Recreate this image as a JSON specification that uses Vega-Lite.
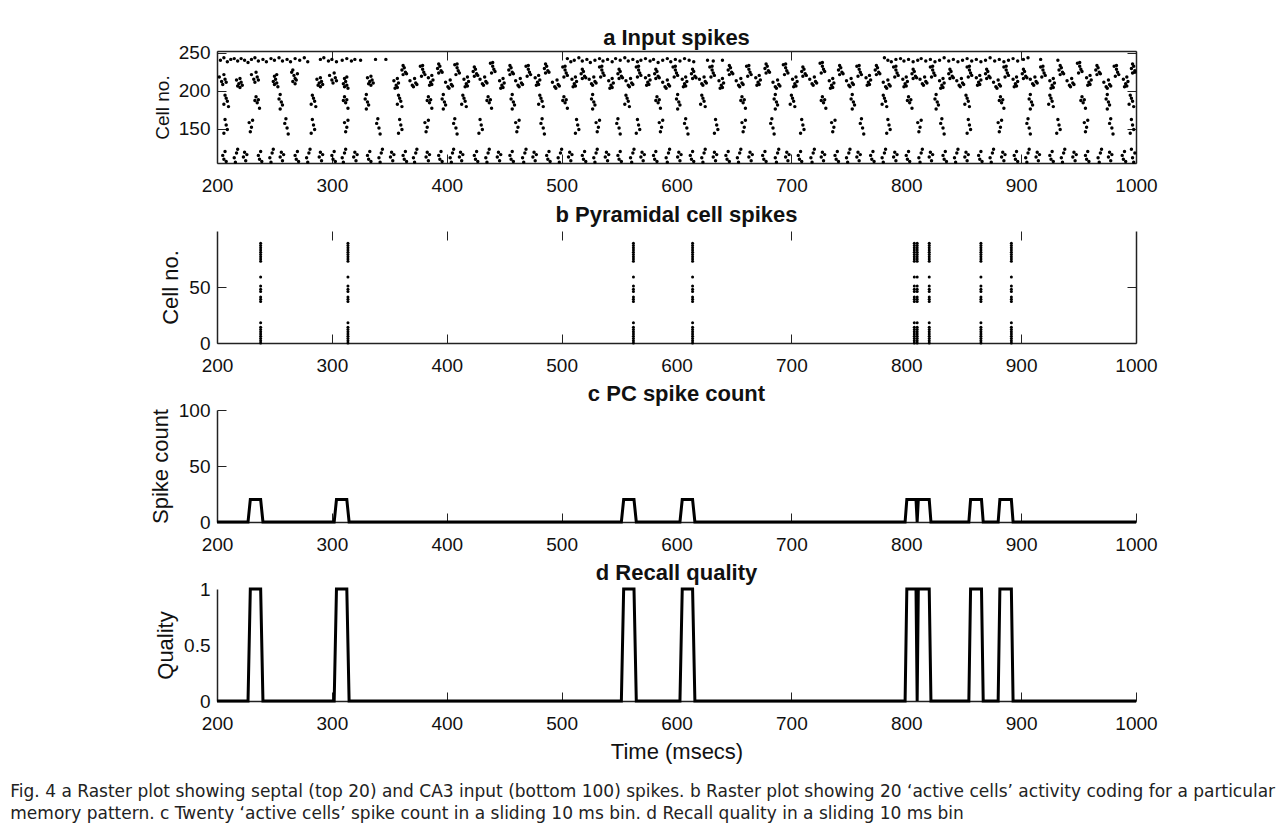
{
"$schema":"https://vega.github.io/schema/vega-lite/v6.json",
"background":"white",
"padding":{"left":10,"top":26,"right":5,"bottom":4},
"spacing":8,
"config":{
"font":"Liberation Sans",
"view":{"stroke":null},
"axis":{"domainColor":"#222","domainWidth":1.5,"tickColor":"#222","tickWidth":1,"tickSize":-9,"labelFont":"Liberation Sans","labelFontSize":19,"labelColor":"#111","titleFont":"Liberation Sans","titleFontSize":22,"titleFontWeight":"normal","titleColor":"#111","grid":false},
"title":{"font":"Liberation Sans","fontSize":22,"fontWeight":"bold","color":"#111","offset":4}
},
"title":{"text":["Fig. 4  a Raster plot showing septal (top 20) and CA3 input (bottom 100) spikes. b Raster plot showing 20 ‘active cells’ activity coding for a particular","memory pattern. c Twenty ‘active cells’ spike count in a sliding 10 ms bin. d Recall quality in a sliding 10 ms bin"],"orient":"bottom","anchor":"start","frame":"bounds","dx":-139,"offset":22,"font":"DejaVu Sans","fontSize":17,"fontWeight":"normal","color":"#222","lineHeight":22},
"datasets":{
"a":[
{"t":203,"c":240},{"t":206,"c":243},{"t":209,"c":238},{"t":212,"c":241},{"t":215,"c":242},{"t":218,"c":239},{"t":221,"c":242},{"t":224,"c":240},{"t":227,"c":237},{"t":230,"c":241},{"t":233,"c":243},{"t":236,"c":239},{"t":240,"c":241},{"t":243,"c":238},{"t":247,"c":242},{"t":250,"c":240},{"t":254,"c":243},{"t":257,"c":239},{"t":261,"c":241},{"t":264,"c":238},{"t":268,"c":242},{"t":272,"c":240},{"t":276,"c":243},{"t":279,"c":238},{"t":290,"c":241},{"t":293,"c":243},{"t":297,"c":239},{"t":300,"c":241},{"t":304,"c":238},{"t":309,"c":240},{"t":313,"c":242},{"t":317,"c":239},{"t":320,"c":241},{"t":325,"c":240},{"t":338,"c":241},{"t":347,"c":241},
{"t":505,"c":242},{"t":508,"c":238},{"t":511,"c":240},{"t":515,"c":243},{"t":518,"c":239},{"t":522,"c":241},{"t":525,"c":237},{"t":529,"c":240},{"t":533,"c":242},{"t":536,"c":239},{"t":540,"c":241},{"t":544,"c":238},{"t":547,"c":242},{"t":551,"c":240},{"t":555,"c":243},{"t":558,"c":239},{"t":562,"c":241},{"t":566,"c":238},{"t":569,"c":240},{"t":573,"c":242},{"t":577,"c":239},{"t":580,"c":241},{"t":584,"c":237},{"t":588,"c":240},{"t":592,"c":242},{"t":595,"c":238},{"t":599,"c":241},{"t":603,"c":239},{"t":607,"c":242},{"t":611,"c":240},{"t":615,"c":238},{"t":627,"c":240},{"t":632,"c":239},{"t":640,"c":240},
{"t":781,"c":243},{"t":784,"c":240},{"t":787,"c":238},{"t":791,"c":241},{"t":795,"c":242},{"t":798,"c":239},{"t":802,"c":241},{"t":806,"c":238},{"t":810,"c":240},{"t":813,"c":242},{"t":817,"c":239},{"t":821,"c":241},{"t":825,"c":238},{"t":829,"c":240},{"t":833,"c":243},{"t":837,"c":239},{"t":841,"c":241},{"t":845,"c":238},{"t":849,"c":240},{"t":853,"c":242},{"t":857,"c":239},{"t":861,"c":241},{"t":865,"c":238},{"t":869,"c":240},{"t":873,"c":243},{"t":877,"c":239},{"t":881,"c":241},{"t":885,"c":238},{"t":889,"c":240},{"t":893,"c":242},{"t":897,"c":239},{"t":902,"c":241},{"t":906,"c":243},{"t":917,"c":241},{"t":932,"c":240},
{"t":204,"c":212},{"t":205,"c":208},{"t":207,"c":215},{"t":202,"c":218},{"t":206,"c":221},{"t":208,"c":211},
{"t":218,"c":206},{"t":219,"c":209},{"t":220,"c":204},{"t":221,"c":211},{"t":217,"c":214},{"t":220,"c":216},{"t":222,"c":207},
{"t":232,"c":215},{"t":233,"c":211},{"t":235,"c":218},{"t":230,"c":221},{"t":234,"c":224},{"t":236,"c":214},
{"t":250,"c":208},{"t":252,"c":210},{"t":249,"c":212},{"t":251,"c":215},{"t":253,"c":205},{"t":250,"c":219},{"t":252,"c":221},
{"t":266,"c":212},{"t":268,"c":216},{"t":267,"c":220},{"t":265,"c":224},{"t":269,"c":214},{"t":266,"c":227},{"t":268,"c":209},{"t":270,"c":222},
{"t":288,"c":207},{"t":289,"c":210},{"t":290,"c":205},{"t":291,"c":212},{"t":287,"c":215},{"t":290,"c":217},{"t":292,"c":208},
{"t":300,"c":214},{"t":301,"c":210},{"t":303,"c":217},{"t":298,"c":220},{"t":302,"c":223},{"t":304,"c":213},
{"t":311,"c":205},{"t":313,"c":207},{"t":310,"c":209},{"t":312,"c":212},{"t":314,"c":203},{"t":311,"c":216},{"t":313,"c":218},
{"t":332,"c":209},{"t":333,"c":212},{"t":334,"c":207},{"t":335,"c":214},{"t":331,"c":217},{"t":334,"c":219},{"t":336,"c":210},
{"t":355,"c":203},{"t":356,"c":207},{"t":357,"c":204},{"t":358,"c":210},{"t":354,"c":213},{"t":357,"c":216},
{"t":362,"c":221},{"t":364,"c":224},{"t":361,"c":227},{"t":363,"c":230},{"t":365,"c":222},{"t":362,"c":233},
{"t":370,"c":207},{"t":371,"c":205},{"t":373,"c":210},{"t":368,"c":213},{"t":372,"c":216},{"t":374,"c":208},
{"t":378,"c":219},{"t":380,"c":224},{"t":379,"c":228},{"t":377,"c":232},{"t":381,"c":221},{"t":379,"c":233},
{"t":385,"c":207},{"t":386,"c":211},{"t":387,"c":208},{"t":388,"c":214},{"t":384,"c":217},{"t":387,"c":220},
{"t":393,"c":223},{"t":395,"c":226},{"t":392,"c":229},{"t":394,"c":232},{"t":396,"c":224},{"t":393,"c":235},
{"t":401,"c":205},{"t":402,"c":203},{"t":404,"c":208},{"t":399,"c":211},{"t":403,"c":214},{"t":405,"c":206},
{"t":408,"c":221},{"t":410,"c":226},{"t":409,"c":230},{"t":407,"c":234},{"t":411,"c":223},{"t":409,"c":235},
{"t":416,"c":205},{"t":417,"c":209},{"t":418,"c":206},{"t":419,"c":212},{"t":415,"c":215},{"t":418,"c":218},
{"t":424,"c":219},{"t":426,"c":222},{"t":423,"c":225},{"t":425,"c":228},{"t":427,"c":220},{"t":424,"c":231},
{"t":431,"c":209},{"t":432,"c":207},{"t":434,"c":212},{"t":429,"c":215},{"t":433,"c":218},{"t":435,"c":210},
{"t":439,"c":223},{"t":441,"c":228},{"t":440,"c":232},{"t":438,"c":236},{"t":442,"c":225},{"t":440,"c":237},
{"t":447,"c":203},{"t":448,"c":207},{"t":449,"c":204},{"t":450,"c":210},{"t":446,"c":213},{"t":449,"c":216},
{"t":455,"c":221},{"t":457,"c":224},{"t":454,"c":227},{"t":456,"c":230},{"t":458,"c":222},{"t":455,"c":233},
{"t":462,"c":207},{"t":463,"c":205},{"t":465,"c":210},{"t":460,"c":213},{"t":464,"c":216},{"t":466,"c":208},
{"t":470,"c":219},{"t":472,"c":224},{"t":471,"c":228},{"t":469,"c":232},{"t":473,"c":221},{"t":471,"c":233},
{"t":478,"c":207},{"t":479,"c":211},{"t":480,"c":208},{"t":481,"c":214},{"t":477,"c":217},{"t":480,"c":220},
{"t":486,"c":223},{"t":488,"c":226},{"t":485,"c":229},{"t":487,"c":232},{"t":489,"c":224},{"t":486,"c":235},
{"t":494,"c":205},{"t":495,"c":203},{"t":497,"c":208},{"t":492,"c":211},{"t":496,"c":214},{"t":498,"c":206},
{"t":502,"c":218},{"t":504,"c":223},{"t":503,"c":227},{"t":501,"c":231},{"t":505,"c":220},{"t":503,"c":232},
{"t":510,"c":205},{"t":511,"c":209},{"t":512,"c":206},{"t":513,"c":212},{"t":509,"c":215},{"t":512,"c":218},
{"t":518,"c":216},{"t":520,"c":219},{"t":517,"c":222},{"t":519,"c":225},{"t":521,"c":217},{"t":518,"c":228},
{"t":526,"c":209},{"t":527,"c":207},{"t":529,"c":212},{"t":524,"c":215},{"t":528,"c":218},{"t":530,"c":210},
{"t":534,"c":218},{"t":536,"c":223},{"t":535,"c":227},{"t":533,"c":231},{"t":537,"c":220},{"t":535,"c":232},
{"t":542,"c":203},{"t":543,"c":207},{"t":544,"c":204},{"t":545,"c":210},{"t":541,"c":213},{"t":544,"c":216},
{"t":550,"c":216},{"t":552,"c":219},{"t":549,"c":222},{"t":551,"c":225},{"t":553,"c":217},{"t":550,"c":228},
{"t":558,"c":207},{"t":559,"c":205},{"t":561,"c":210},{"t":556,"c":213},{"t":560,"c":216},{"t":562,"c":208},
{"t":566,"c":218},{"t":568,"c":223},{"t":567,"c":227},{"t":565,"c":231},{"t":569,"c":220},{"t":567,"c":232},
{"t":574,"c":207},{"t":575,"c":211},{"t":576,"c":208},{"t":577,"c":214},{"t":573,"c":217},{"t":576,"c":220},
{"t":582,"c":216},{"t":584,"c":219},{"t":581,"c":222},{"t":583,"c":225},{"t":585,"c":217},{"t":582,"c":228},
{"t":590,"c":205},{"t":591,"c":203},{"t":593,"c":208},{"t":588,"c":211},{"t":592,"c":214},{"t":594,"c":206},
{"t":598,"c":218},{"t":600,"c":223},{"t":599,"c":227},{"t":597,"c":231},{"t":601,"c":220},{"t":599,"c":232},
{"t":606,"c":205},{"t":607,"c":209},{"t":608,"c":206},{"t":609,"c":212},{"t":605,"c":215},{"t":608,"c":218},
{"t":614,"c":216},{"t":616,"c":219},{"t":613,"c":222},{"t":615,"c":225},{"t":617,"c":217},{"t":614,"c":228},
{"t":622,"c":209},{"t":623,"c":207},{"t":625,"c":212},{"t":620,"c":215},{"t":624,"c":218},{"t":626,"c":210},
{"t":630,"c":218},{"t":632,"c":223},{"t":631,"c":227},{"t":629,"c":231},{"t":633,"c":220},{"t":631,"c":232},
{"t":638,"c":203},{"t":639,"c":207},{"t":640,"c":204},{"t":641,"c":210},{"t":637,"c":213},{"t":640,"c":216},
{"t":646,"c":221},{"t":648,"c":224},{"t":645,"c":227},{"t":647,"c":230},{"t":649,"c":222},{"t":646,"c":233},
{"t":654,"c":207},{"t":655,"c":205},{"t":657,"c":210},{"t":652,"c":213},{"t":656,"c":216},{"t":658,"c":208},
{"t":662,"c":219},{"t":664,"c":224},{"t":663,"c":228},{"t":661,"c":232},{"t":665,"c":221},{"t":663,"c":233},
{"t":670,"c":207},{"t":671,"c":211},{"t":672,"c":208},{"t":673,"c":214},{"t":669,"c":217},{"t":672,"c":220},
{"t":678,"c":223},{"t":680,"c":226},{"t":677,"c":229},{"t":679,"c":232},{"t":681,"c":224},{"t":678,"c":235},
{"t":686,"c":205},{"t":687,"c":203},{"t":689,"c":208},{"t":684,"c":211},{"t":688,"c":214},{"t":690,"c":206},
{"t":694,"c":221},{"t":696,"c":226},{"t":695,"c":230},{"t":693,"c":234},{"t":697,"c":223},{"t":695,"c":235},
{"t":702,"c":205},{"t":703,"c":209},{"t":704,"c":206},{"t":705,"c":212},{"t":701,"c":215},{"t":704,"c":218},
{"t":710,"c":219},{"t":712,"c":222},{"t":709,"c":225},{"t":711,"c":228},{"t":713,"c":220},{"t":710,"c":231},
{"t":718,"c":209},{"t":719,"c":207},{"t":721,"c":212},{"t":716,"c":215},{"t":720,"c":218},{"t":722,"c":210},
{"t":726,"c":223},{"t":728,"c":228},{"t":727,"c":232},{"t":725,"c":236},{"t":729,"c":225},{"t":727,"c":237},
{"t":734,"c":203},{"t":735,"c":207},{"t":736,"c":204},{"t":737,"c":210},{"t":733,"c":213},{"t":736,"c":216},
{"t":742,"c":221},{"t":744,"c":224},{"t":741,"c":227},{"t":743,"c":230},{"t":745,"c":222},{"t":742,"c":233},
{"t":750,"c":207},{"t":751,"c":205},{"t":753,"c":210},{"t":748,"c":213},{"t":752,"c":216},{"t":754,"c":208},
{"t":758,"c":219},{"t":760,"c":224},{"t":759,"c":228},{"t":757,"c":232},{"t":761,"c":221},{"t":759,"c":233},
{"t":766,"c":207},{"t":767,"c":211},{"t":768,"c":208},{"t":769,"c":214},{"t":765,"c":217},{"t":768,"c":220},
{"t":774,"c":221},{"t":776,"c":224},{"t":773,"c":227},{"t":775,"c":230},{"t":777,"c":222},{"t":774,"c":233},
{"t":782,"c":205},{"t":783,"c":203},{"t":785,"c":208},{"t":780,"c":211},{"t":784,"c":214},{"t":786,"c":206},
{"t":790,"c":218},{"t":792,"c":223},{"t":791,"c":227},{"t":789,"c":231},{"t":793,"c":220},{"t":791,"c":232},
{"t":798,"c":205},{"t":799,"c":209},{"t":800,"c":206},{"t":801,"c":212},{"t":797,"c":215},{"t":800,"c":218},
{"t":806,"c":216},{"t":808,"c":219},{"t":805,"c":222},{"t":807,"c":225},{"t":809,"c":217},{"t":806,"c":228},
{"t":814,"c":209},{"t":815,"c":207},{"t":817,"c":212},{"t":812,"c":215},{"t":816,"c":218},{"t":818,"c":210},
{"t":822,"c":218},{"t":824,"c":223},{"t":823,"c":227},{"t":821,"c":231},{"t":825,"c":220},{"t":823,"c":232},
{"t":830,"c":203},{"t":831,"c":207},{"t":832,"c":204},{"t":833,"c":210},{"t":829,"c":213},{"t":832,"c":216},
{"t":838,"c":216},{"t":840,"c":219},{"t":837,"c":222},{"t":839,"c":225},{"t":841,"c":217},{"t":838,"c":228},
{"t":846,"c":207},{"t":847,"c":205},{"t":849,"c":210},{"t":844,"c":213},{"t":848,"c":216},{"t":850,"c":208},
{"t":854,"c":218},{"t":856,"c":223},{"t":855,"c":227},{"t":853,"c":231},{"t":857,"c":220},{"t":855,"c":232},
{"t":862,"c":207},{"t":863,"c":211},{"t":864,"c":208},{"t":865,"c":214},{"t":861,"c":217},{"t":864,"c":220},
{"t":870,"c":216},{"t":872,"c":219},{"t":869,"c":222},{"t":871,"c":225},{"t":873,"c":217},{"t":870,"c":228},
{"t":878,"c":205},{"t":879,"c":203},{"t":881,"c":208},{"t":876,"c":211},{"t":880,"c":214},{"t":882,"c":206},
{"t":886,"c":218},{"t":888,"c":223},{"t":887,"c":227},{"t":885,"c":231},{"t":889,"c":220},{"t":887,"c":232},
{"t":894,"c":205},{"t":895,"c":209},{"t":896,"c":206},{"t":897,"c":212},{"t":893,"c":215},{"t":896,"c":218},
{"t":902,"c":216},{"t":904,"c":219},{"t":901,"c":222},{"t":903,"c":225},{"t":905,"c":217},{"t":902,"c":228},
{"t":910,"c":209},{"t":911,"c":207},{"t":913,"c":212},{"t":908,"c":215},{"t":912,"c":218},{"t":914,"c":210},
{"t":918,"c":218},{"t":920,"c":223},{"t":919,"c":227},{"t":917,"c":231},{"t":921,"c":220},{"t":919,"c":232},
{"t":926,"c":203},{"t":927,"c":207},{"t":928,"c":204},{"t":929,"c":210},{"t":925,"c":213},{"t":928,"c":216},
{"t":934,"c":221},{"t":936,"c":224},{"t":933,"c":227},{"t":935,"c":230},{"t":937,"c":222},{"t":934,"c":233},
{"t":942,"c":207},{"t":943,"c":205},{"t":945,"c":210},{"t":940,"c":213},{"t":944,"c":216},{"t":946,"c":208},
{"t":950,"c":223},{"t":952,"c":228},{"t":951,"c":232},{"t":949,"c":236},{"t":953,"c":225},{"t":951,"c":237},
{"t":958,"c":207},{"t":959,"c":211},{"t":960,"c":208},{"t":961,"c":214},{"t":957,"c":217},{"t":960,"c":220},
{"t":966,"c":221},{"t":968,"c":224},{"t":965,"c":227},{"t":967,"c":230},{"t":969,"c":222},{"t":966,"c":233},
{"t":974,"c":205},{"t":975,"c":203},{"t":977,"c":208},{"t":972,"c":211},{"t":976,"c":214},{"t":978,"c":206},
{"t":982,"c":219},{"t":984,"c":224},{"t":983,"c":228},{"t":981,"c":232},{"t":985,"c":221},{"t":983,"c":233},
{"t":990,"c":205},{"t":991,"c":209},{"t":992,"c":206},{"t":993,"c":212},{"t":989,"c":215},{"t":992,"c":218},
{"t":997,"c":223},{"t":999,"c":226},{"t":996,"c":229},{"t":998,"c":232},{"t":999,"c":224},{"t":997,"c":235},
{"t":207,"c":194},{"t":208,"c":190},{"t":209,"c":186},{"t":206,"c":182},{"t":210,"c":179},
{"t":234,"c":192},{"t":236,"c":188},{"t":235,"c":184},{"t":237,"c":177},{"t":233,"c":187},
{"t":255,"c":195},{"t":254,"c":189},{"t":256,"c":185},{"t":257,"c":181},{"t":255,"c":176},
{"t":283,"c":194},{"t":284,"c":190},{"t":285,"c":186},{"t":282,"c":182},{"t":286,"c":179},
{"t":311,"c":192},{"t":313,"c":188},{"t":312,"c":184},{"t":314,"c":177},{"t":310,"c":187},
{"t":330,"c":195},{"t":329,"c":189},{"t":331,"c":185},{"t":332,"c":181},{"t":330,"c":176},
{"t":358,"c":194},{"t":359,"c":190},{"t":360,"c":186},{"t":357,"c":182},{"t":361,"c":179},
{"t":384,"c":192},{"t":386,"c":188},{"t":385,"c":184},{"t":387,"c":177},{"t":383,"c":187},
{"t":397,"c":195},{"t":396,"c":189},{"t":398,"c":185},{"t":399,"c":181},{"t":397,"c":176},
{"t":414,"c":194},{"t":415,"c":190},{"t":416,"c":186},{"t":413,"c":182},{"t":417,"c":179},
{"t":436,"c":192},{"t":438,"c":188},{"t":437,"c":184},{"t":439,"c":177},{"t":435,"c":187},
{"t":457,"c":195},{"t":456,"c":189},{"t":458,"c":185},{"t":459,"c":181},{"t":457,"c":176},
{"t":481,"c":194},{"t":482,"c":190},{"t":483,"c":186},{"t":480,"c":182},{"t":484,"c":179},
{"t":502,"c":192},{"t":504,"c":188},{"t":503,"c":184},{"t":505,"c":177},{"t":501,"c":187},
{"t":527,"c":195},{"t":526,"c":189},{"t":528,"c":185},{"t":529,"c":181},{"t":527,"c":176},
{"t":556,"c":194},{"t":557,"c":190},{"t":558,"c":186},{"t":555,"c":182},{"t":559,"c":179},
{"t":583,"c":192},{"t":585,"c":188},{"t":584,"c":184},{"t":586,"c":177},{"t":582,"c":187},
{"t":601,"c":195},{"t":600,"c":189},{"t":602,"c":185},{"t":603,"c":181},{"t":601,"c":176},
{"t":622,"c":194},{"t":623,"c":190},{"t":624,"c":186},{"t":621,"c":182},{"t":625,"c":179},
{"t":657,"c":192},{"t":659,"c":188},{"t":658,"c":184},{"t":660,"c":177},{"t":656,"c":187},
{"t":686,"c":195},{"t":685,"c":189},{"t":687,"c":185},{"t":688,"c":181},{"t":686,"c":176},
{"t":700,"c":194},{"t":701,"c":190},{"t":702,"c":186},{"t":699,"c":182},{"t":703,"c":179},
{"t":727,"c":192},{"t":729,"c":188},{"t":728,"c":184},{"t":730,"c":177},{"t":726,"c":187},
{"t":753,"c":195},{"t":752,"c":189},{"t":754,"c":185},{"t":755,"c":181},{"t":753,"c":176},
{"t":780,"c":194},{"t":781,"c":190},{"t":782,"c":186},{"t":779,"c":182},{"t":783,"c":179},
{"t":802,"c":192},{"t":804,"c":188},{"t":803,"c":184},{"t":805,"c":177},{"t":801,"c":187},
{"t":826,"c":195},{"t":825,"c":189},{"t":827,"c":185},{"t":828,"c":181},{"t":826,"c":176},
{"t":852,"c":194},{"t":853,"c":190},{"t":854,"c":186},{"t":851,"c":182},{"t":855,"c":179},
{"t":882,"c":192},{"t":884,"c":188},{"t":883,"c":184},{"t":885,"c":177},{"t":881,"c":187},
{"t":908,"c":195},{"t":907,"c":189},{"t":909,"c":185},{"t":910,"c":181},{"t":908,"c":176},
{"t":925,"c":194},{"t":926,"c":190},{"t":927,"c":186},{"t":924,"c":182},{"t":928,"c":179},
{"t":953,"c":192},{"t":955,"c":188},{"t":954,"c":184},{"t":956,"c":177},{"t":952,"c":187},
{"t":975,"c":195},{"t":974,"c":189},{"t":976,"c":185},{"t":977,"c":181},{"t":975,"c":176},
{"t":995,"c":194},{"t":996,"c":190},{"t":997,"c":186},{"t":994,"c":182},{"t":998,"c":179},
{"t":207,"c":162},{"t":208,"c":155},{"t":209,"c":149},{"t":206,"c":144},
{"t":228,"c":158},{"t":230,"c":152},{"t":229,"c":146},{"t":231,"c":161},
{"t":260,"c":163},{"t":259,"c":157},{"t":261,"c":151},{"t":262,"c":143},
{"t":283,"c":162},{"t":284,"c":155},{"t":285,"c":149},{"t":282,"c":144},
{"t":311,"c":158},{"t":313,"c":152},{"t":312,"c":146},{"t":314,"c":161},
{"t":340,"c":163},{"t":339,"c":157},{"t":341,"c":151},{"t":342,"c":143},
{"t":359,"c":162},{"t":360,"c":155},{"t":361,"c":149},{"t":358,"c":144},
{"t":381,"c":158},{"t":383,"c":152},{"t":382,"c":146},{"t":384,"c":161},
{"t":407,"c":163},{"t":406,"c":157},{"t":408,"c":151},{"t":409,"c":143},
{"t":429,"c":162},{"t":430,"c":155},{"t":431,"c":149},{"t":428,"c":144},
{"t":460,"c":158},{"t":462,"c":152},{"t":461,"c":146},{"t":463,"c":161},
{"t":483,"c":163},{"t":482,"c":157},{"t":484,"c":151},{"t":485,"c":143},
{"t":513,"c":162},{"t":514,"c":155},{"t":515,"c":149},{"t":512,"c":144},
{"t":530,"c":158},{"t":532,"c":152},{"t":531,"c":146},{"t":533,"c":161},
{"t":549,"c":163},{"t":548,"c":157},{"t":550,"c":151},{"t":551,"c":143},
{"t":566,"c":162},{"t":567,"c":155},{"t":568,"c":149},{"t":565,"c":144},
{"t":585,"c":158},{"t":587,"c":152},{"t":586,"c":146},{"t":588,"c":161},
{"t":608,"c":163},{"t":607,"c":157},{"t":609,"c":151},{"t":610,"c":143},
{"t":634,"c":162},{"t":635,"c":155},{"t":636,"c":149},{"t":633,"c":144},
{"t":657,"c":158},{"t":659,"c":152},{"t":658,"c":146},{"t":660,"c":161},
{"t":683,"c":163},{"t":682,"c":157},{"t":684,"c":151},{"t":685,"c":143},
{"t":709,"c":162},{"t":710,"c":155},{"t":711,"c":149},{"t":708,"c":144},
{"t":735,"c":158},{"t":737,"c":152},{"t":736,"c":146},{"t":738,"c":161},
{"t":761,"c":163},{"t":760,"c":157},{"t":762,"c":151},{"t":763,"c":143},
{"t":784,"c":162},{"t":785,"c":155},{"t":786,"c":149},{"t":783,"c":144},
{"t":810,"c":158},{"t":812,"c":152},{"t":811,"c":146},{"t":813,"c":161},
{"t":831,"c":163},{"t":830,"c":157},{"t":832,"c":151},{"t":833,"c":143},
{"t":854,"c":162},{"t":855,"c":155},{"t":856,"c":149},{"t":853,"c":144},
{"t":880,"c":158},{"t":882,"c":152},{"t":881,"c":146},{"t":883,"c":161},
{"t":906,"c":163},{"t":905,"c":157},{"t":907,"c":151},{"t":908,"c":143},
{"t":932,"c":162},{"t":933,"c":155},{"t":934,"c":149},{"t":931,"c":144},
{"t":955,"c":158},{"t":957,"c":152},{"t":956,"c":146},{"t":958,"c":161},
{"t":978,"c":163},{"t":977,"c":157},{"t":979,"c":151},{"t":980,"c":143},
{"t":996,"c":162},{"t":997,"c":155},{"t":998,"c":149},{"t":995,"c":144},
{"t":205,"c":115},{"t":206,"c":110},{"t":207,"c":120},{"t":208,"c":107},
{"t":215,"c":112},{"t":217,"c":118},{"t":216,"c":106},{"t":218,"c":123},
{"t":224,"c":119},{"t":223,"c":113},{"t":225,"c":108},{"t":226,"c":116},
{"t":236,"c":115},{"t":237,"c":110},{"t":238,"c":120},{"t":239,"c":107},
{"t":246,"c":112},{"t":248,"c":118},{"t":247,"c":106},{"t":249,"c":123},
{"t":256,"c":119},{"t":255,"c":113},{"t":257,"c":108},{"t":258,"c":116},
{"t":268,"c":115},{"t":269,"c":110},{"t":270,"c":120},{"t":271,"c":107},
{"t":278,"c":112},{"t":280,"c":118},{"t":279,"c":106},{"t":281,"c":123},
{"t":290,"c":119},{"t":289,"c":113},{"t":291,"c":108},{"t":292,"c":116},
{"t":300,"c":115},{"t":301,"c":110},{"t":302,"c":120},{"t":303,"c":107},
{"t":309,"c":112},{"t":311,"c":118},{"t":310,"c":106},{"t":312,"c":123},
{"t":320,"c":119},{"t":319,"c":113},{"t":321,"c":108},{"t":322,"c":116},
{"t":331,"c":115},{"t":332,"c":110},{"t":333,"c":120},{"t":334,"c":107},
{"t":341,"c":112},{"t":343,"c":118},{"t":342,"c":106},{"t":344,"c":123},
{"t":352,"c":119},{"t":351,"c":113},{"t":353,"c":108},{"t":354,"c":116},
{"t":362,"c":115},{"t":363,"c":110},{"t":364,"c":120},{"t":365,"c":107},
{"t":371,"c":112},{"t":373,"c":118},{"t":372,"c":106},{"t":374,"c":123},
{"t":383,"c":119},{"t":382,"c":113},{"t":384,"c":108},{"t":385,"c":116},
{"t":393,"c":115},{"t":394,"c":110},{"t":395,"c":120},{"t":396,"c":107},
{"t":403,"c":112},{"t":405,"c":118},{"t":404,"c":106},{"t":406,"c":123},
{"t":412,"c":119},{"t":411,"c":113},{"t":413,"c":108},{"t":414,"c":116},
{"t":424,"c":115},{"t":425,"c":110},{"t":426,"c":120},{"t":427,"c":107},
{"t":434,"c":112},{"t":436,"c":118},{"t":435,"c":106},{"t":437,"c":123},
{"t":445,"c":119},{"t":444,"c":113},{"t":446,"c":108},{"t":447,"c":116},
{"t":455,"c":115},{"t":456,"c":110},{"t":457,"c":120},{"t":458,"c":107},
{"t":466,"c":112},{"t":468,"c":118},{"t":467,"c":106},{"t":469,"c":123},
{"t":476,"c":119},{"t":475,"c":113},{"t":477,"c":108},{"t":478,"c":116},
{"t":487,"c":115},{"t":488,"c":110},{"t":489,"c":120},{"t":490,"c":107},
{"t":497,"c":112},{"t":499,"c":118},{"t":498,"c":106},{"t":500,"c":123},
{"t":507,"c":119},{"t":506,"c":113},{"t":508,"c":108},{"t":509,"c":116},
{"t":518,"c":115},{"t":519,"c":110},{"t":520,"c":120},{"t":521,"c":107},
{"t":528,"c":112},{"t":530,"c":118},{"t":529,"c":106},{"t":531,"c":123},
{"t":539,"c":119},{"t":538,"c":113},{"t":540,"c":108},{"t":541,"c":116},
{"t":549,"c":115},{"t":550,"c":110},{"t":551,"c":120},{"t":552,"c":107},
{"t":560,"c":112},{"t":562,"c":118},{"t":561,"c":106},{"t":563,"c":123},
{"t":570,"c":119},{"t":569,"c":113},{"t":571,"c":108},{"t":572,"c":116},
{"t":580,"c":115},{"t":581,"c":110},{"t":582,"c":120},{"t":583,"c":107},
{"t":591,"c":112},{"t":593,"c":118},{"t":592,"c":106},{"t":594,"c":123},
{"t":602,"c":119},{"t":601,"c":113},{"t":603,"c":108},{"t":604,"c":116},
{"t":612,"c":115},{"t":613,"c":110},{"t":614,"c":120},{"t":615,"c":107},
{"t":622,"c":112},{"t":624,"c":118},{"t":623,"c":106},{"t":625,"c":123},
{"t":633,"c":119},{"t":632,"c":113},{"t":634,"c":108},{"t":635,"c":116},
{"t":643,"c":115},{"t":644,"c":110},{"t":645,"c":120},{"t":646,"c":107},
{"t":653,"c":112},{"t":655,"c":118},{"t":654,"c":106},{"t":656,"c":123},
{"t":664,"c":119},{"t":663,"c":113},{"t":665,"c":108},{"t":666,"c":116},
{"t":675,"c":115},{"t":676,"c":110},{"t":677,"c":120},{"t":678,"c":107},
{"t":686,"c":112},{"t":688,"c":118},{"t":687,"c":106},{"t":689,"c":123},
{"t":696,"c":119},{"t":695,"c":113},{"t":697,"c":108},{"t":698,"c":116},
{"t":706,"c":115},{"t":707,"c":110},{"t":708,"c":120},{"t":709,"c":107},
{"t":717,"c":112},{"t":719,"c":118},{"t":718,"c":106},{"t":720,"c":123},
{"t":727,"c":119},{"t":726,"c":113},{"t":728,"c":108},{"t":729,"c":116},
{"t":738,"c":115},{"t":739,"c":110},{"t":740,"c":120},{"t":741,"c":107},
{"t":748,"c":112},{"t":750,"c":118},{"t":749,"c":106},{"t":751,"c":123},
{"t":758,"c":119},{"t":757,"c":113},{"t":759,"c":108},{"t":760,"c":116},
{"t":769,"c":115},{"t":770,"c":110},{"t":771,"c":120},{"t":772,"c":107},
{"t":779,"c":112},{"t":781,"c":118},{"t":780,"c":106},{"t":782,"c":123},
{"t":790,"c":119},{"t":789,"c":113},{"t":791,"c":108},{"t":792,"c":116},
{"t":800,"c":115},{"t":801,"c":110},{"t":802,"c":120},{"t":803,"c":107},
{"t":811,"c":112},{"t":813,"c":118},{"t":812,"c":106},{"t":814,"c":123},
{"t":821,"c":119},{"t":820,"c":113},{"t":822,"c":108},{"t":823,"c":116},
{"t":832,"c":115},{"t":833,"c":110},{"t":834,"c":120},{"t":835,"c":107},
{"t":842,"c":112},{"t":844,"c":118},{"t":843,"c":106},{"t":845,"c":123},
{"t":852,"c":119},{"t":851,"c":113},{"t":853,"c":108},{"t":854,"c":116},
{"t":863,"c":115},{"t":864,"c":110},{"t":865,"c":120},{"t":866,"c":107},
{"t":873,"c":112},{"t":875,"c":118},{"t":874,"c":106},{"t":876,"c":123},
{"t":884,"c":119},{"t":883,"c":113},{"t":885,"c":108},{"t":886,"c":116},
{"t":894,"c":115},{"t":895,"c":110},{"t":896,"c":120},{"t":897,"c":107},
{"t":904,"c":112},{"t":906,"c":118},{"t":905,"c":106},{"t":907,"c":123},
{"t":914,"c":119},{"t":913,"c":113},{"t":915,"c":108},{"t":916,"c":116},
{"t":925,"c":115},{"t":926,"c":110},{"t":927,"c":120},{"t":928,"c":107},
{"t":935,"c":112},{"t":937,"c":118},{"t":936,"c":106},{"t":938,"c":123},
{"t":946,"c":119},{"t":945,"c":113},{"t":947,"c":108},{"t":948,"c":116},
{"t":956,"c":115},{"t":957,"c":110},{"t":958,"c":120},{"t":959,"c":107},
{"t":967,"c":112},{"t":969,"c":118},{"t":968,"c":106},{"t":970,"c":123},
{"t":977,"c":119},{"t":976,"c":113},{"t":978,"c":108},{"t":979,"c":116},
{"t":988,"c":115},{"t":989,"c":110},{"t":990,"c":120},{"t":991,"c":107},
{"t":997,"c":112},{"t":999,"c":118},{"t":998,"c":106},{"t":996,"c":123}
],
"b":[
{"t":238,"c":0},{"t":238,"c":2},{"t":238,"c":4},{"t":238,"c":6},{"t":238,"c":8},{"t":238,"c":10},{"t":238,"c":12},{"t":238,"c":14},{"t":238,"c":18},{"t":238,"c":37},{"t":238,"c":39},{"t":238,"c":41},{"t":238,"c":46},{"t":238,"c":48},{"t":238,"c":51},{"t":238,"c":59},{"t":238,"c":73},{"t":238,"c":75},{"t":238,"c":77},{"t":238,"c":79},{"t":238,"c":81},{"t":238,"c":83},{"t":238,"c":85},{"t":238,"c":87},{"t":238,"c":89},
{"t":314,"c":0},{"t":314,"c":2},{"t":314,"c":4},{"t":314,"c":6},{"t":314,"c":8},{"t":314,"c":10},{"t":314,"c":12},{"t":314,"c":14},{"t":314,"c":18},{"t":314,"c":37},{"t":314,"c":39},{"t":314,"c":41},{"t":314,"c":46},{"t":314,"c":48},{"t":314,"c":51},{"t":314,"c":59},{"t":314,"c":73},{"t":314,"c":75},{"t":314,"c":77},{"t":314,"c":79},{"t":314,"c":81},{"t":314,"c":83},{"t":314,"c":85},{"t":314,"c":87},{"t":314,"c":89},
{"t":562.5,"c":0},{"t":562.5,"c":2},{"t":562.5,"c":4},{"t":562.5,"c":6},{"t":562.5,"c":8},{"t":562.5,"c":10},{"t":562.5,"c":12},{"t":562.5,"c":14},{"t":562.5,"c":18},{"t":562.5,"c":37},{"t":562.5,"c":39},{"t":562.5,"c":41},{"t":562.5,"c":46},{"t":562.5,"c":48},{"t":562.5,"c":51},{"t":562.5,"c":59},{"t":562.5,"c":73},{"t":562.5,"c":75},{"t":562.5,"c":77},{"t":562.5,"c":79},{"t":562.5,"c":81},{"t":562.5,"c":83},{"t":562.5,"c":85},{"t":562.5,"c":87},{"t":562.5,"c":89},
{"t":614,"c":0},{"t":614,"c":2},{"t":614,"c":4},{"t":614,"c":6},{"t":614,"c":8},{"t":614,"c":10},{"t":614,"c":12},{"t":614,"c":14},{"t":614,"c":18},{"t":614,"c":37},{"t":614,"c":39},{"t":614,"c":41},{"t":614,"c":46},{"t":614,"c":48},{"t":614,"c":51},{"t":614,"c":59},{"t":614,"c":73},{"t":614,"c":75},{"t":614,"c":77},{"t":614,"c":79},{"t":614,"c":81},{"t":614,"c":83},{"t":614,"c":85},{"t":614,"c":87},{"t":614,"c":89},
{"t":807,"c":0},{"t":807,"c":2},{"t":807,"c":4},{"t":807,"c":6},{"t":807,"c":8},{"t":807,"c":10},{"t":807,"c":12},{"t":807,"c":14},{"t":807,"c":18},{"t":807,"c":37},{"t":807,"c":39},{"t":807,"c":41},{"t":807,"c":46},{"t":807,"c":48},{"t":807,"c":51},{"t":807,"c":59},{"t":807,"c":73},{"t":807,"c":75},{"t":807,"c":77},{"t":807,"c":79},{"t":807,"c":81},{"t":807,"c":83},{"t":807,"c":85},{"t":807,"c":87},{"t":807,"c":89},
{"t":809.5,"c":0},{"t":809.5,"c":2},{"t":809.5,"c":4},{"t":809.5,"c":6},{"t":809.5,"c":8},{"t":809.5,"c":10},{"t":809.5,"c":12},{"t":809.5,"c":14},{"t":809.5,"c":18},{"t":809.5,"c":37},{"t":809.5,"c":39},{"t":809.5,"c":41},{"t":809.5,"c":46},{"t":809.5,"c":48},{"t":809.5,"c":51},{"t":809.5,"c":59},{"t":809.5,"c":73},{"t":809.5,"c":75},{"t":809.5,"c":77},{"t":809.5,"c":79},{"t":809.5,"c":81},{"t":809.5,"c":83},{"t":809.5,"c":85},{"t":809.5,"c":87},{"t":809.5,"c":89},
{"t":820,"c":0},{"t":820,"c":2},{"t":820,"c":4},{"t":820,"c":6},{"t":820,"c":8},{"t":820,"c":10},{"t":820,"c":12},{"t":820,"c":14},{"t":820,"c":18},{"t":820,"c":37},{"t":820,"c":39},{"t":820,"c":41},{"t":820,"c":46},{"t":820,"c":48},{"t":820,"c":51},{"t":820,"c":59},{"t":820,"c":73},{"t":820,"c":75},{"t":820,"c":77},{"t":820,"c":79},{"t":820,"c":81},{"t":820,"c":83},{"t":820,"c":85},{"t":820,"c":87},{"t":820,"c":89},
{"t":865,"c":0},{"t":865,"c":2},{"t":865,"c":4},{"t":865,"c":6},{"t":865,"c":8},{"t":865,"c":10},{"t":865,"c":12},{"t":865,"c":14},{"t":865,"c":18},{"t":865,"c":37},{"t":865,"c":39},{"t":865,"c":41},{"t":865,"c":46},{"t":865,"c":48},{"t":865,"c":51},{"t":865,"c":59},{"t":865,"c":73},{"t":865,"c":75},{"t":865,"c":77},{"t":865,"c":79},{"t":865,"c":81},{"t":865,"c":83},{"t":865,"c":85},{"t":865,"c":87},{"t":865,"c":89},
{"t":891.5,"c":0},{"t":891.5,"c":2},{"t":891.5,"c":4},{"t":891.5,"c":6},{"t":891.5,"c":8},{"t":891.5,"c":10},{"t":891.5,"c":12},{"t":891.5,"c":14},{"t":891.5,"c":18},{"t":891.5,"c":37},{"t":891.5,"c":39},{"t":891.5,"c":41},{"t":891.5,"c":46},{"t":891.5,"c":48},{"t":891.5,"c":51},{"t":891.5,"c":59},{"t":891.5,"c":73},{"t":891.5,"c":75},{"t":891.5,"c":77},{"t":891.5,"c":79},{"t":891.5,"c":81},{"t":891.5,"c":83},{"t":891.5,"c":85},{"t":891.5,"c":87},{"t":891.5,"c":89}
],
"c":[
{"t":200,"v":0},{"t":227,"v":0},{"t":229,"v":20},{"t":238,"v":20},{"t":240,"v":0},{"t":302,"v":0},{"t":304,"v":20},{"t":313,"v":20},{"t":315,"v":0},{"t":552,"v":0},{"t":554,"v":20},{"t":563,"v":20},{"t":565,"v":0},{"t":603,"v":0},{"t":605,"v":20},{"t":614,"v":20},{"t":616,"v":0},{"t":799,"v":0},{"t":800.5,"v":20},{"t":808.5,"v":20},{"t":809.5,"v":0},{"t":810.5,"v":20},{"t":820,"v":20},{"t":821.5,"v":0},{"t":854.5,"v":0},{"t":856,"v":20},{"t":865.5,"v":20},{"t":867,"v":0},{"t":880,"v":0},{"t":881.5,"v":20},{"t":891.5,"v":20},{"t":893,"v":0},{"t":1000,"v":0}
],
"d":[
{"t":200,"v":0},{"t":227,"v":0},{"t":229,"v":1},{"t":238,"v":1},{"t":240,"v":0},{"t":302,"v":0},{"t":304,"v":1},{"t":313,"v":1},{"t":315,"v":0},{"t":552,"v":0},{"t":554,"v":1},{"t":563,"v":1},{"t":565,"v":0},{"t":603,"v":0},{"t":605,"v":1},{"t":614,"v":1},{"t":616,"v":0},{"t":799,"v":0},{"t":800.5,"v":1},{"t":808.5,"v":1},{"t":809.5,"v":0},{"t":810.5,"v":1},{"t":820,"v":1},{"t":821.5,"v":0},{"t":854.5,"v":0},{"t":856,"v":1},{"t":865.5,"v":1},{"t":867,"v":0},{"t":880,"v":0},{"t":881.5,"v":1},{"t":891.5,"v":1},{"t":893,"v":0},{"t":1000,"v":0}
]
},
"vconcat":[
{
"width":919,"height":112,
"title":{"text":"a  Input spikes","anchor":"middle","offset":-6},
"data":{"name":"a"},
"layer":[
{"mark":{"type":"point","shape":"circle","filled":true,"size":12,"color":"black","opacity":1},
"encoding":{
"x":{"field":"t","type":"quantitative","scale":{"domain":[200,1000],"nice":false,"zero":false},"axis":{"orient":"bottom","values":[200,300,400,500,600,700,800,900,1000],"format":"d","title":null,"labelPadding":22,"labelFlush":false,"tickColor":{"condition":{"test":"datum.value==600||datum.value==800","value":"transparent"},"value":"#222"}}},
"y":{"field":"c","type":"quantitative","scale":{"domain":[105,252],"nice":false,"zero":false},"axis":{"orient":"left","values":[150,200,250],"title":"Cell no.","titleFontSize":19,"labelPadding":16,"titlePadding":6}}
}},
{"mark":{"type":"point","opacity":0},
"encoding":{
"x":{"field":"t","type":"quantitative","axis":{"orient":"top","values":[200,300,400,500,600,700,800,900,1000],"labels":false,"title":null,"tickColor":{"condition":{"test":"datum.value==600||datum.value==800","value":"transparent"},"value":"#222"}}},
"y":{"field":"c","type":"quantitative","axis":{"orient":"right","values":[150,200,250],"labels":false,"title":null}}
}}
],
"resolve":{"axis":{"x":"independent","y":"independent"}}
},
{
"width":919,"height":112,
"title":{"text":"b  Pyramidal cell spikes","anchor":"middle","offset":4},
"data":{"name":"b"},
"layer":[
{"mark":{"type":"point","shape":"circle","filled":true,"size":9,"color":"black","opacity":1},
"encoding":{
"x":{"field":"t","type":"quantitative","scale":{"domain":[200,1000],"nice":false,"zero":false},"axis":{"orient":"bottom","values":[200,300,400,500,600,700,800,900,1000],"format":"d","title":null,"labelPadding":22,"labelFlush":false,"tickColor":{"condition":{"test":"datum.value==600||datum.value==800","value":"transparent"},"value":"#222"}}},
"y":{"field":"c","type":"quantitative","scale":{"domain":[0,100],"nice":false,"zero":false},"axis":{"orient":"left","values":[0,50],"title":"Cell no.","labelPadding":16,"titlePadding":6}}
}},
{"mark":{"type":"point","opacity":0},
"encoding":{
"x":{"field":"t","type":"quantitative","axis":{"orient":"top","values":[300,400,500,700,900],"labels":false,"domain":false,"title":null}},
"y":{"field":"c","type":"quantitative","axis":{"orient":"right","values":[50],"labels":false,"title":null}}
}}
],
"resolve":{"axis":{"x":"independent","y":"independent"}}
},
{
"width":919,"height":112,
"title":{"text":"c  PC spike count","anchor":"middle","offset":-5},
"data":{"name":"c"},
"mark":{"type":"line","color":"black","strokeWidth":3},
"encoding":{
"x":{"field":"t","type":"quantitative","scale":{"domain":[200,1000],"nice":false,"zero":false},"axis":{"orient":"bottom","values":[200,300,400,500,600,700,800,900,1000],"format":"d","title":null,"labelPadding":22,"labelFlush":false,"tickColor":{"condition":{"test":"datum.value==600||datum.value==800","value":"transparent"},"value":"#222"}}},
"y":{"field":"v","type":"quantitative","scale":{"domain":[0,100],"nice":false},"axis":{"orient":"left","values":[0,50,100],"title":"Spike count","labelPadding":16,"titlePadding":6}}
}
},
{
"width":919,"height":112,
"title":{"text":"d  Recall quality","anchor":"middle","offset":-5},
"data":{"name":"d"},
"mark":{"type":"line","color":"black","strokeWidth":3},
"encoding":{
"x":{"field":"t","type":"quantitative","scale":{"domain":[200,1000],"nice":false,"zero":false},"axis":{"orient":"bottom","values":[200,300,400,500,600,700,800,900,1000],"format":"d","title":"Time (msecs)","titlePadding":8,"labelPadding":22,"labelFlush":false,"tickColor":{"condition":{"test":"datum.value==600||datum.value==800","value":"transparent"},"value":"#222"}}},
"y":{"field":"v","type":"quantitative","scale":{"domain":[0,1],"nice":false},"axis":{"orient":"left","values":[0,0.5,1],"format":"~g","title":"Quality","labelPadding":16,"titlePadding":6,"tickColor":"transparent"}}
}
}
]
}
